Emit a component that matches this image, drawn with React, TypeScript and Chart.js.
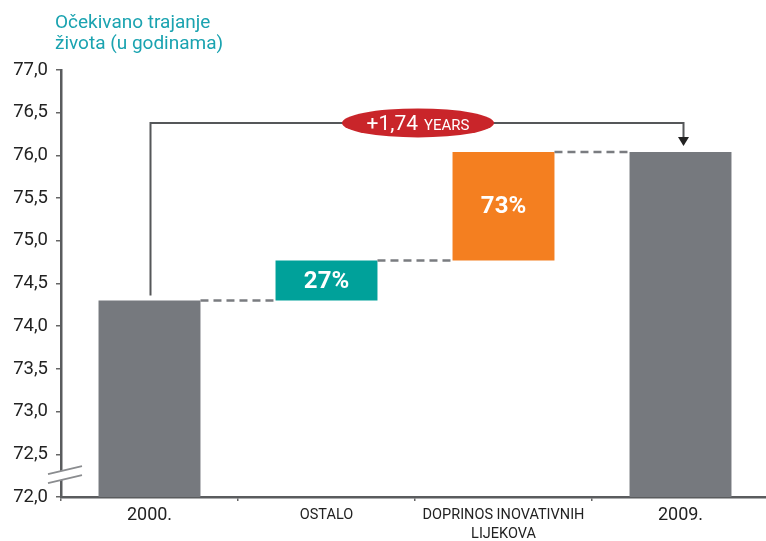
import React, { useEffect, useRef } from "react";
import { Chart, registerables } from "chart.js";

Chart.register(...registerables);

const titleLines = ["Očekivano trajanje", "života (u godinama)"];
const categories: (string | string[])[] = ["2000.", "OSTALO", ["DOPRINOS INOVATIVNIH", "LIJEKOVA"], "2009."];
const barStart = [72, 74.3, 74.77, 72];
const barEnd = [74.3, 74.77, 76.04, 76.04];
const barLabels = ["", "27%", "73%", ""];
const barColors = ["#76797e", "#00a19a", "#f47f20", "#76797e"];
const yMin = 72;
const yMax = 77;
const yStep = 0.5;
const changeValue = "+1,74";
const changeUnit = "YEARS";
const arrowLevel = 76.38;
const breakLevel = 72.28;

const FONT = "Roboto, 'Noto Sans', sans-serif";

const overlayPlugin = {
  id: "overlay",
  afterDatasetsDraw(chart: any) {
    const { ctx } = chart;
    const x = chart.scales.x;
    const y = chart.scales.y;
    const meta = chart.getDatasetMeta(0);
    const bars = meta.data;
    ctx.save();

    // dashed connectors
    ctx.strokeStyle = "#7a7c80";
    ctx.lineWidth = 2.5;
    ctx.setLineDash([8, 5]);
    for (let i = 0; i < bars.length - 1; i++) {
      const b = bars[i];
      const n = bars[i + 1];
      const lvl = y.getPixelForValue(barEnd[i]);
      ctx.beginPath();
      ctx.moveTo(b.x + b.width / 2, lvl);
      ctx.lineTo(n.x - n.width / 2, lvl);
      ctx.stroke();
    }
    ctx.setLineDash([]);

    // bar labels
    ctx.fillStyle = "#ffffff";
    ctx.font = `bold 24px ${FONT}`;
    ctx.textAlign = "center";
    ctx.textBaseline = "middle";
    bars.forEach((b: any, i: number) => {
      if (!barLabels[i]) return;
      const cy = (y.getPixelForValue(barStart[i]) + y.getPixelForValue(barEnd[i])) / 2;
      ctx.fillText(barLabels[i], b.x, cy + 1);
    });

    // bracket arrow
    const first = bars[0];
    const last = bars[bars.length - 1];
    const ay = y.getPixelForValue(arrowLevel);
    const startY = y.getPixelForValue(barEnd[0]) - 5;
    const endY = y.getPixelForValue(barEnd[3]) - 6;
    const x1 = first.x + 1;
    const x2 = last.x + 3;
    ctx.strokeStyle = "#555759";
    ctx.lineWidth = 2;
    ctx.beginPath();
    ctx.moveTo(x1, startY);
    ctx.lineTo(x1, ay);
    ctx.lineTo(x2, ay);
    ctx.lineTo(x2, endY - 8);
    ctx.stroke();
    ctx.fillStyle = "#222";
    ctx.beginPath();
    ctx.moveTo(x2 - 5.5, endY - 9);
    ctx.lineTo(x2 + 5.5, endY - 9);
    ctx.lineTo(x2, endY);
    ctx.closePath();
    ctx.fill();

    // red oval
    const ox = (bars[1].x + bars[2].x) / 2 + 3;
    ctx.fillStyle = "#c9252a";
    ctx.beginPath();
    ctx.ellipse(ox, ay, 76, 14.5, 0, 0, Math.PI * 2);
    ctx.fill();
    ctx.fillStyle = "#ffffff";
    ctx.textBaseline = "alphabetic";
    ctx.textAlign = "left";
    ctx.font = `21px ${FONT}`;
    const w1 = ctx.measureText(changeValue).width;
    ctx.font = `15px ${FONT}`;
    const w2 = ctx.measureText(changeUnit).width;
    const gap = 6;
    const tx = ox - (w1 + gap + w2) / 2;
    ctx.font = `21px ${FONT}`;
    ctx.fillText(changeValue, tx, ay + 7.5);
    ctx.font = `15px ${FONT}`;
    ctx.fillText(changeUnit, tx + w1 + gap, ay + 7.5);

    // axis break
    const bx = x.left;
    const by = y.getPixelForValue(breakLevel);
    ctx.fillStyle = "#ffffff";
    ctx.beginPath();
    ctx.moveTo(bx - 13, by + 1);
    ctx.lineTo(bx + 21, by - 7);
    ctx.lineTo(bx + 21, by + 2);
    ctx.lineTo(bx - 13, by + 10);
    ctx.closePath();
    ctx.fill();
    ctx.strokeStyle = "#8a8c8f";
    ctx.lineWidth = 1.8;
    ctx.beginPath();
    ctx.moveTo(bx - 13, by + 1);
    ctx.lineTo(bx + 21, by - 7);
    ctx.moveTo(bx - 13, by + 10);
    ctx.lineTo(bx + 21, by + 2);
    ctx.stroke();

    ctx.restore();
  },
  afterDraw(chart: any) {
    const { ctx } = chart;
    ctx.save();
    ctx.fillStyle = "#1aa3b0";
    ctx.font = `19px ${FONT}`;
    ctx.textAlign = "left";
    ctx.textBaseline = "alphabetic";
    titleLines.forEach((t, i) => ctx.fillText(t, 55, 28 + i * 21));
    ctx.restore();
  },
};

export default function App() {
  const ref = useRef<HTMLCanvasElement | null>(null);
  useEffect(() => {
    if (!ref.current) return;
    const chart = new Chart(ref.current, {
      type: "bar",
      data: {
        labels: categories as any,
        datasets: [
          {
            data: barStart.map((s, i) => [s, barEnd[i]]) as any,
            backgroundColor: barColors,
            borderWidth: 0,
            barPercentage: 0.576,
            categoryPercentage: 1,
          },
        ],
      },
      options: {
        responsive: false,
        animation: false,
        devicePixelRatio: 1,
        layout: { padding: { top: 70, right: 2, left: 0, bottom: 0 } },
        plugins: { legend: { display: false }, tooltip: { enabled: false }, title: { display: false } },
        scales: {
          x: {
            afterFit: (s: any) => {
              s.height = 44;
            },
            grid: {
              offset: true,
              drawOnChartArea: false,
              drawTicks: true,
              tickLength: 4,
              color: "#666",
              lineWidth: 1.5,
            },
            border: { display: true, color: "#5a5c5e", width: 2.5 },
            ticks: {
              color: "#222",
              padding: 5,
              maxRotation: 0,
              autoSkip: false,
              font: (c: any) =>
                c.index === 0 || c.index === 3
                  ? { family: FONT, size: 18, lineHeight: "19px" }
                  : { family: FONT, size: 14.5, lineHeight: "19px" },
            } as any,
          },
          y: {
            min: yMin,
            max: yMax,
            afterFit: (s: any) => {
              s.width = 61;
            },
            grid: { drawOnChartArea: false, drawTicks: true, tickLength: 5, color: "#666", lineWidth: 1.5 },
            border: { display: true, color: "#5a5c5e", width: 2.5 },
            ticks: {
              stepSize: yStep,
              color: "#222",
              padding: 8,
              font: { family: FONT, size: 18.5 },
              callback: (v: any) => Number(v).toFixed(1).replace(".", ","),
            },
          },
        },
      },
      plugins: [overlayPlugin],
    });
    return () => chart.destroy();
  }, []);
  return (
    <div style={{ position: "fixed", left: 0, top: 0, width: 766, height: 541, overflow: "hidden", background: "#fff" }}>
      <canvas ref={ref} width={771} height={541} style={{ display: "block" }} />
    </div>
  );
}
